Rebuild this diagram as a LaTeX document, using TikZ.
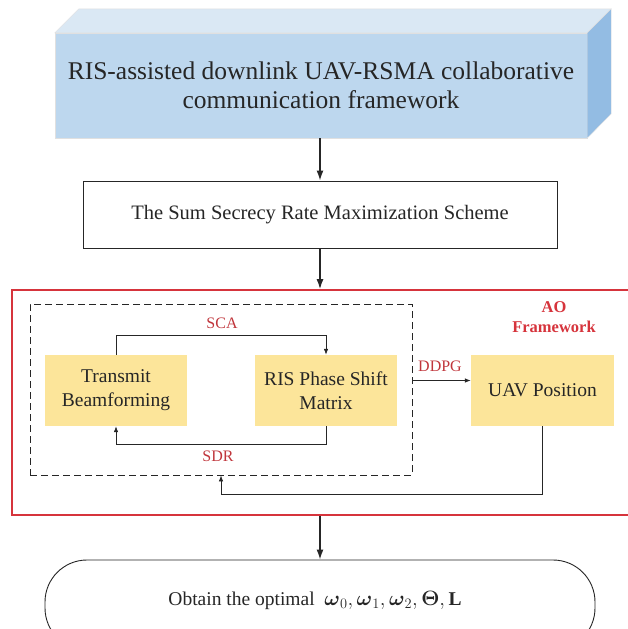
\documentclass[tikz,border=0pt]{standalone}
\usepackage{fontspec}
\setmainfont{Liberation Serif}
\usepackage{amsmath,amssymb}
\usepackage{xcolor}
\usetikzlibrary{arrows.meta,positioning,shapes}

\definecolor{frontblue}{HTML}{BDD7EE}
\definecolor{topblue}{HTML}{DAE8F4}
\definecolor{sideblue}{HTML}{93BCE3}
\definecolor{boxyellow}{HTML}{FCE59A}
\definecolor{aored}{HTML}{D6343C}
\definecolor{labred}{HTML}{C0363C}
\definecolor{inkgray}{HTML}{262626}

\begin{document}
\begin{tikzpicture}[x=1pt, y=-1pt,
    plainbox/.style={draw=inkgray, line width=0.9pt, align=center, text=inkgray, font=\fontsize{20.5}{24}\selectfont},
    yellowbox/.style={fill=boxyellow, minimum width=142pt, minimum height=71pt, align=center, text=inkgray, font=\fontsize{19.5}{24}\selectfont},
    redlab/.style={text=labred, font=\fontsize{16}{18}\selectfont},
    thinarrow/.style={-{Latex[length=6pt,width=4.5pt]}, draw=inkgray, line width=0.7pt},
    mainarrow/.style={-{Latex[length=10pt,width=7pt]}, draw=inkgray, line width=1.4pt}]
    \useasboundingbox (0,0) rectangle (628,629);
    \clip (0,0) rectangle (628,629);

    % system block
    \node[fill=frontblue, draw=black!12, line width=0.4pt, minimum width=532pt, minimum height=105pt,
          align=center, text=inkgray, font=\fontsize{25.5}{29}\selectfont] (sys) at (321,85.5)
          {RIS-assisted downlink UAV-RSMA collaborative\\communication framework};
    \filldraw[fill=topblue, draw=black!12, line width=0.4pt] (sys.north west) -- ++(24,-24)
        -- ([xshift=24pt,yshift=24pt]sys.north east) -- (sys.north east) -- cycle;
    \filldraw[fill=sideblue, draw=black!12, line width=0.4pt] (sys.north east) -- ++(24,-24)
        -- ++(0,105) -- (sys.south east) -- cycle;

    % scheme
    \node[plainbox, minimum width=474pt, minimum height=67pt] (scheme) at (320,214.5)
        {The Sum Secrecy Rate Maximization Scheme};

    % AO frame
    \node[draw=aored, line width=1.6pt, minimum width=633pt, minimum height=225pt] (ao) at (328.5,402.5) {};
    \node[text=aored, align=center, font=\bfseries\fontsize{16.5}{20}\selectfont] (aolab) at (554,317) {AO\\Framework};
    \node[draw=inkgray, dashed, dash pattern=on 7pt off 4pt, line width=0.8pt,
          minimum width=382pt, minimum height=171pt] (inner) at (221,389.5) {};

    % blocks
    \node[yellowbox] (tb) at (116,390.5) {Transmit\\Beamforming};
    \node[yellowbox] (ris) at (326,390.5) {RIS Phase Shift\\Matrix};
    \node[yellowbox, minimum width=143pt] (uav) at (542.5,390.5) {UAV Position};

    % result
    \node[draw=inkgray, line width=0.9pt, rounded corners=42pt, minimum width=550pt, minimum height=90pt] (opt) at (320,605) {};
    \node[text=inkgray, font=\fontsize{19.5}{24}\selectfont] (opttxt) at (315,600)
        {Obtain the optimal \ $\boldsymbol{\omega}_0,\boldsymbol{\omega}_1,\boldsymbol{\omega}_2,\boldsymbol{\Theta},\mathbf{L}$};

    % labels
    \node[redlab] (sca) at (222,323) {SCA};
    \node[redlab] (sdr) at (218,456) {SDR};
    \node[redlab] (ddpg) at (440,366) {DDPG};

    % main flow
    \draw[mainarrow] (scheme.north |- sys.south) -- (scheme.north);
    \draw[mainarrow] (scheme.south) -- (scheme.south |- ao.north);
    \draw[mainarrow] (scheme.south |- ao.south) -- (opt.north);

    % inner loop
    \draw[thinarrow] (tb.north) -- ++(0,-19) -| (ris.north);
    \draw[thinarrow] (ris.south) -- ++(0,18) -| (tb.south);
    \draw[thinarrow] ([yshift=9pt]inner.east) -- ([yshift=9pt]inner.east -| uav.west);
    \draw[thinarrow] (uav.south) -- ++(0,68) -| (inner.south);
\end{tikzpicture}
\end{document}
